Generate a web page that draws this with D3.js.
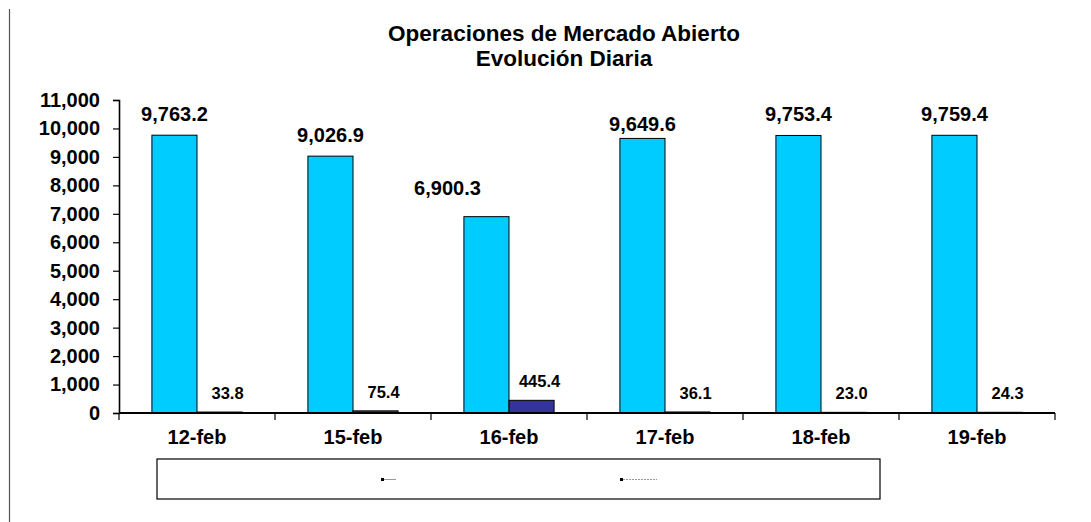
<title>Operaciones de Mercado Abierto</title>
<script src="https://cdn.jsdelivr.net/npm/d3@7"></script>
<style>
    body { margin: 0; background: #fff; font-family: "Liberation Sans", Arial, sans-serif; }
    text { font-family: "Liberation Sans", Arial, sans-serif; font-weight: bold; fill: #000; }
</style>
<body>
    <div id="plot"></div>
</body>
<script>
    // data
    var fechas = ["12-feb", "15-feb", "16-feb", "17-feb", "18-feb", "19-feb"];
    var serieA = [9763.2, 9026.9, 6900.3, 9649.6, 9753.4, 9759.4];
    var serieB = [33.8, 75.4, 445.4, 36.1, 23.0, 24.3];
    var yTicks = [0, 1000, 2000, 3000, 4000, 5000, 6000, 7000, 8000, 9000, 10000, 11000];
    var titulo = ["Operaciones de Mercado Abierto", "Evolución Diaria"];

    var W = 1091, H = 522;
    var m = {left: 119, right: 1055, top: 100, bottom: 413};

    var svg = d3.select("#plot").append("svg")
        .attr("width", W).attr("height", H);

    // gray frame line on the left
    svg.append("line")
        .attr("x1", 9.5).attr("x2", 9.5).attr("y1", 9).attr("y2", H)
        .attr("stroke", "#555").attr("stroke-width", 1.2);

    // title
    svg.append("text").attr("x", 564).attr("y", 41).attr("text-anchor", "middle")
        .style("font-size", "22.5px").text(titulo[0]);
    svg.append("text").attr("x", 564).attr("y", 66).attr("text-anchor", "middle")
        .style("font-size", "22.5px").text(titulo[1]);

    var x0 = d3.scaleBand().domain(fechas).range([m.left, m.right]);
    var x1 = d3.scaleBand().domain([0, 1]).range([0, x0.bandwidth()]).paddingOuter(0.73);
    var y = d3.scaleLinear().domain([0, 11000]).range([m.bottom, m.top]);

    // y axis
    var yAxis = svg.append("g")
        .attr("transform", "translate(" + m.left + ",0)")
        .call(d3.axisLeft(y).tickValues(yTicks).tickFormat(d3.format(",")).tickSizeOuter(0).tickSize(6).tickPadding(13));
    yAxis.select(".domain").attr("stroke", "#000").attr("stroke-width", 1.6);
    yAxis.selectAll(".tick line").attr("stroke", "#000").attr("stroke-width", 1.2);
    yAxis.selectAll("text").style("font-size", "20px").attr("font-family", null);

    var groups = svg.selectAll("g.cat")
        .data(fechas)
        .enter().append("g")
        .attr("class", "cat")
        .attr("transform", function (d) { return "translate(" + x0(d) + ",0)"; });

    // bars
    groups.append("rect")
        .attr("x", x1(0)).attr("width", x1.bandwidth())
        .attr("y", function (d, i) { return y(serieA[i]); })
        .attr("height", function (d, i) { return m.bottom - y(serieA[i]); })
        .attr("fill", "#00CCFF").attr("stroke", "#000").attr("stroke-width", 1);

    groups.append("rect")
        .attr("x", x1(1)).attr("width", x1.bandwidth())
        .attr("y", function (d, i) { return y(serieB[i]); })
        .attr("height", function (d, i) { return m.bottom - y(serieB[i]); })
        .attr("fill", "#333399").attr("stroke", "#000").attr("stroke-width", 1);

    // value labels (the 16-feb one sits up and to the left of its bar, as in the original)
    groups.append("text")
        .attr("x", function (d, i) { return x1(0) + x1.bandwidth() / 2 + (i == 2 ? -39 : 0); })
        .attr("y", function (d, i) { return y(serieA[i]) - (i == 2 ? 22 : i == 3 ? 7 : 14); })
        .attr("text-anchor", "middle")
        .style("font-size", "20px")
        .text(function (d, i) { return d3.format(",.1f")(serieA[i]); });

    groups.append("text")
        .attr("x", x1(1) + x1.bandwidth() / 2 + 8)
        .attr("y", function (d, i) { return y(serieB[i]) - 13; })
        .attr("text-anchor", "middle")
        .style("font-size", "16.5px")
        .text(function (d, i) { return d3.format(",.1f")(serieB[i]); });

    // x axis
    var xAxis = svg.append("g")
        .attr("transform", "translate(0," + m.bottom + ")");
    xAxis.append("line")
        .attr("x1", m.left).attr("x2", m.right)
        .attr("stroke", "#000").attr("stroke-width", 2);
    xAxis.selectAll("line.tk")
        .data(fechas.concat(["end"]))
        .enter().append("line")
        .attr("class", "tk")
        .attr("x1", function (d, i) { return m.left + i * x0.step(); })
        .attr("x2", function (d, i) { return m.left + i * x0.step(); })
        .attr("y1", 0).attr("y2", 7)
        .attr("stroke", "#000").attr("stroke-width", 1.2);
    xAxis.selectAll("text")
        .data(fechas)
        .enter().append("text")
        .attr("x", function (d) { return x0(d) + x0.bandwidth() / 2; })
        .attr("y", 31)
        .attr("text-anchor", "middle")
        .style("font-size", "20px")
        .text(function (d) { return d; });

    // legend box (entries are nearly invisible in the original)
    var leg = svg.append("g");
    leg.append("rect")
        .attr("x", 157).attr("y", 459).attr("width", 723).attr("height", 40)
        .attr("fill", "#fff").attr("stroke", "#000").attr("stroke-width", 1.2);
    leg.append("rect").attr("x", 381).attr("y", 478).attr("width", 3).attr("height", 3).attr("fill", "#000");
    leg.append("line").attr("x1", 384).attr("x2", 396).attr("y1", 479.5).attr("y2", 479.5)
        .attr("stroke", "#999").attr("stroke-width", 1);
    leg.append("rect").attr("x", 620).attr("y", 478).attr("width", 3).attr("height", 3).attr("fill", "#000");
    leg.append("line").attr("x1", 623).attr("x2", 657).attr("y1", 479.5).attr("y2", 479.5)
        .attr("stroke", "#999").attr("stroke-width", 1).attr("stroke-dasharray", "2,1");
</script>
